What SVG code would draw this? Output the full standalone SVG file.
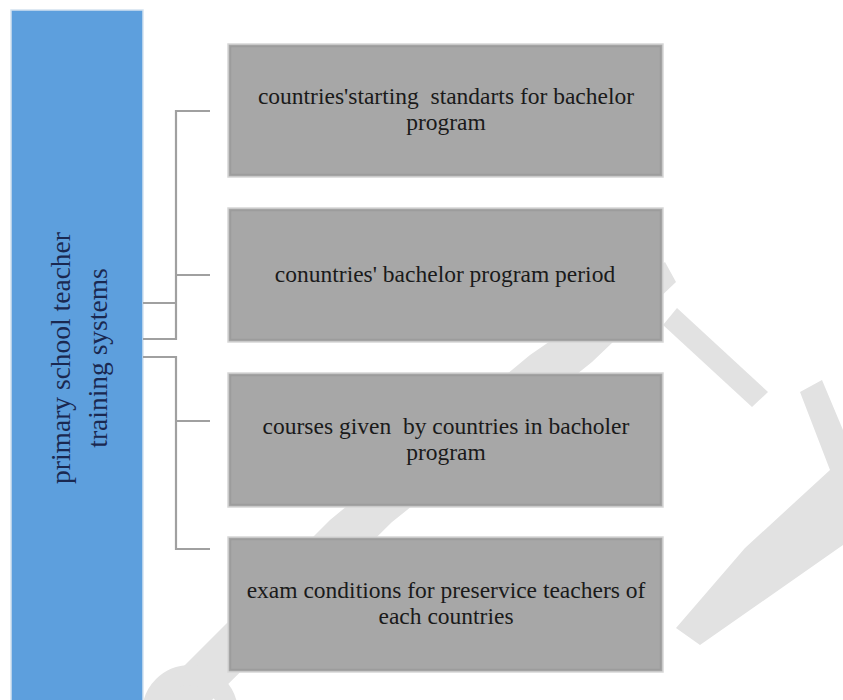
<svg xmlns="http://www.w3.org/2000/svg" width="843" height="700" viewBox="0 0 843 700">
<style>
.wm{fill:#e2e2e2;stroke:none}
.box{fill:#a7a7a7;stroke:#d6d6d6;stroke-width:1.5}
.inner{fill:none;stroke:#9c9c9c;stroke-width:1.5}
.t{font-family:"Liberation Serif","Times New Roman",serif;font-size:23.5px;fill:#1a1a1a;text-anchor:middle;white-space:pre}
.vt{font-family:"Liberation Serif","Times New Roman",serif;font-size:27.5px;fill:#1a2850;text-anchor:middle}
.conn{fill:none;stroke:#a0a0a0;stroke-width:2.2}
</style>
<rect width="843" height="700" fill="#ffffff"/>
<g id="watermark">
<polygon class="wm" points="150,700 330,520 530,355 665,262 676,282 592,362 392,522 212,700"/>
<circle cx="190" cy="713" r="38" fill="none" stroke="#e2e2e2" stroke-width="20"/>
<polygon class="wm" points="663,325 677,308 768,392 752,407"/>
<polygon class="wm" points="800,392 822,380 843,430 843,545 700,645 676,628 745,548 830,470"/>
</g>
<g id="root">
<rect x="11" y="10" width="132" height="700" fill="#5d9fdd" stroke="#d3e2ef" stroke-width="1.5"/>
<text class="vt" transform="translate(70,358) rotate(-90)">primary school teacher</text>
<text class="vt" transform="translate(107,358) rotate(-90)">training systems</text>
</g>
<g id="connectors">
<path class="conn" d="M143,303 H176 M143,339 H176 V111 H210 M176,275 H210"/>
<path class="conn" d="M143,357 H176 V549 H210 M176,421 H210"/>
</g>
<g id="box1">
<rect class="box" x="228" y="44" width="435" height="133"/>
<rect class="inner" x="230.5" y="46.5" width="430" height="128"/>
<text class="t" x="446" y="104" xml:space="preserve">countries'starting  standarts for bachelor</text>
<text class="t" x="446" y="130">program</text>
</g>
<g id="box2">
<rect class="box" x="228" y="208" width="435" height="134"/>
<rect class="inner" x="230.5" y="210.5" width="430" height="129"/>
<text class="t" x="445" y="282">conuntries' bachelor program period</text>
</g>
<g id="box3">
<rect class="box" x="228" y="373" width="435" height="134"/>
<rect class="inner" x="230.5" y="375.5" width="430" height="129"/>
<text class="t" x="446" y="434" xml:space="preserve">courses given  by countries in bacholer</text>
<text class="t" x="446" y="460">program</text>
</g>
<g id="box4">
<rect class="box" x="228" y="537" width="435" height="135"/>
<rect class="inner" x="230.5" y="539.5" width="430" height="130"/>
<text class="t" x="446" y="598">exam conditions for preservice teachers of</text>
<text class="t" x="446" y="624">each countries</text>
</g>
</svg>
